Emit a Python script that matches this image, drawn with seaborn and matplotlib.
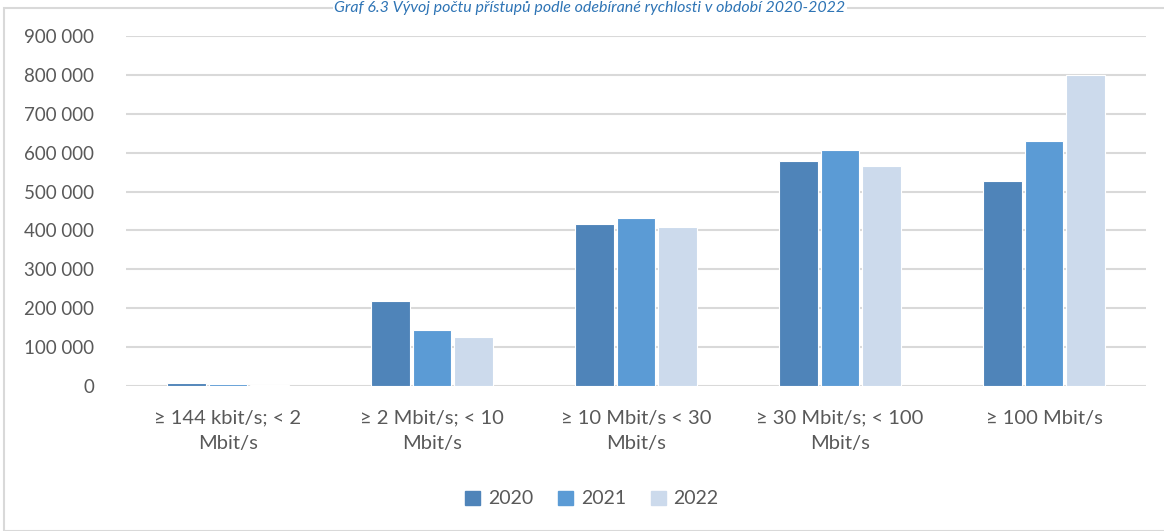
import matplotlib
matplotlib.use("Agg")
import matplotlib.pyplot as plt
import matplotlib.patches as mpatches
import seaborn as sns
import pandas as pd
from matplotlib.ticker import FuncFormatter, MultipleLocator

categories = ["≥ 144 kbit/s; < 2\nMbit/s", "≥ 2 Mbit/s; < 10\nMbit/s", "≥ 10 Mbit/s < 30\nMbit/s",
              "≥ 30 Mbit/s; < 100\nMbit/s", "≥ 100 Mbit/s"]
years = ["2020", "2021", "2022"]
v2020 = [8000, 218000, 416000, 578000, 527000]
v2021 = [4500, 144000, 432000, 607000, 631000]
v2022 = [2000, 126000, 409000, 566000, 800000]
colors = ["#4F84B9", "#5B9BD5", "#CCDAEC"]
title = "Graf 6.3 Vývoj počtu přístupů podle odebírané rychlosti v období 2020-2022"

rows = []
for y, vals in zip(years, [v2020, v2021, v2022]):
    for c, v in zip(categories, vals):
        rows.append({"cat": c, "year": y, "value": v})
df = pd.DataFrame(rows)

sns.set_theme(style="white")
plt.rcParams["font.family"] = ["Lato", "DejaVu Sans"]

fig = plt.figure(figsize=(11.64, 5.31), dpi=100)
ax = fig.add_axes([126/1164, (531-386)/531, (1146-126)/1164, 350/531])

sns.barplot(data=df, x="cat", y="value", hue="year", order=categories, hue_order=years,
            palette=colors, width=0.61, gap=0.06, edgecolor="white", linewidth=0.8,
            saturation=1, ax=ax, legend=False)

ax.set_ylim(0, 900000)
ax.set_xlim(-0.5, 4.5)
ax.yaxis.set_major_locator(MultipleLocator(100000))
ax.yaxis.set_major_formatter(FuncFormatter(lambda v, p: f"{int(v):,}".replace(",", " ")))
ax.grid(axis="y", color="#D9D9D9", linewidth=1.5)
ax.set_axisbelow(True)
for s in ax.spines.values():
    s.set_visible(False)
ax.set_xlabel("")
ax.set_ylabel("")
ax.tick_params(axis="y", labelsize=13.5, labelcolor="#595959", length=0, pad=23)
ax.tick_params(axis="x", labelsize=14.5, labelcolor="#595959", length=0, pad=17)
for lbl in ax.get_xticklabels():
    lbl.set_linespacing(1.6)

handles = [mpatches.Patch(color=c, label=y) for c, y in zip(colors, years)]
fig.legend(handles=handles, loc="center", bbox_to_anchor=(592/1164, 1-499/531), ncol=3,
           frameon=False, fontsize=14, labelcolor="#595959", handlelength=0.75, handleheight=0.75,
           handletextpad=0.4, columnspacing=1.3)

fig.patches.append(mpatches.Rectangle((4/1164, 0), 1.0, 1-8/531, transform=fig.transFigure,
                                      fill=False, edgecolor="#D9D9D9", linewidth=1.5))
fig.text(590/1164, 1-1/531, title, ha="center", va="top", fontsize=11.5, color="#2E74B5",
         style="italic", bbox=dict(facecolor="white", edgecolor="none", pad=1))

fig.savefig("out.png", dpi=100)
